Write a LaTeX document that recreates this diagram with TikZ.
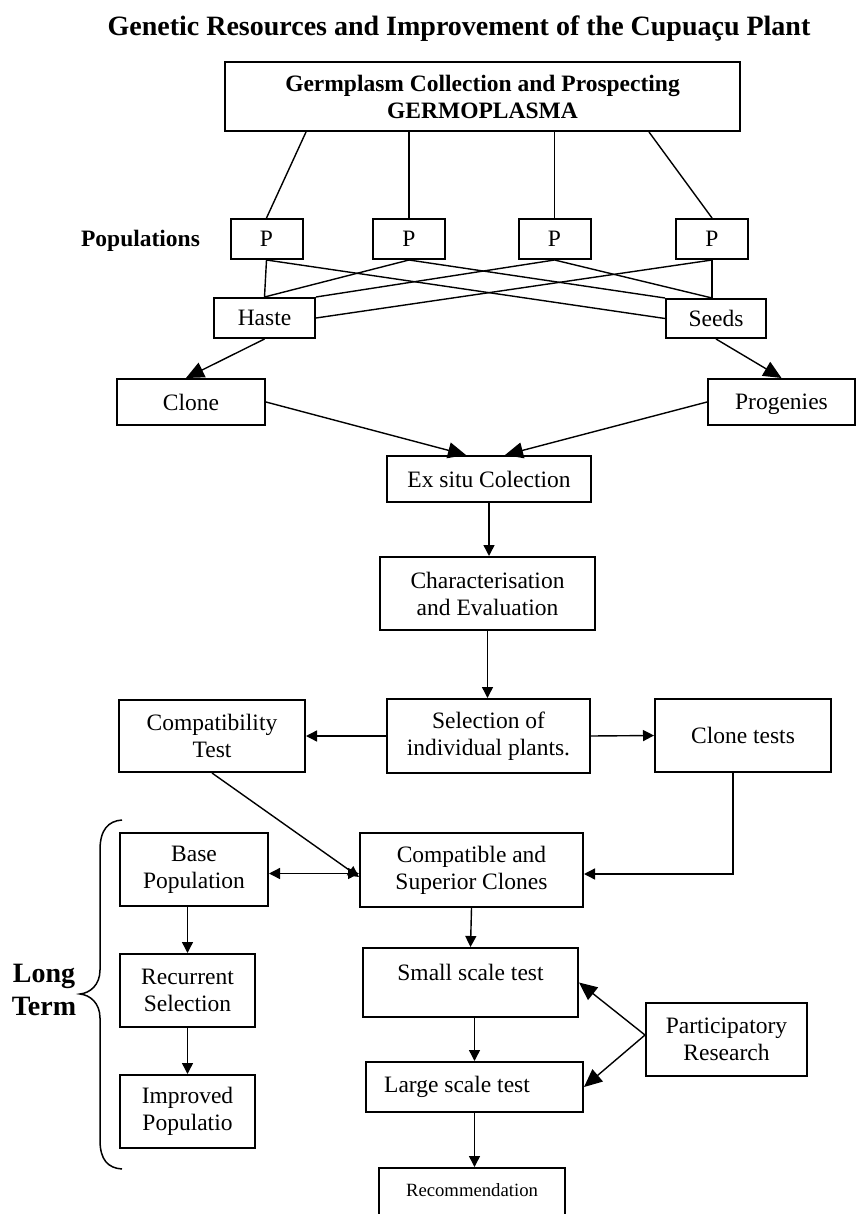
\documentclass[tikz,border=0pt]{standalone}
\usepackage{fontspec}
\setmainfont{Liberation Serif}
\usetikzlibrary{arrows.meta,calc}
\newcommand\fbody{\fontsize{23.5}{27}\selectfont}
\newcommand\ftitle{\fontsize{28}{33}\selectfont\bfseries}
\newcommand\freco{\fontsize{18.7}{22}\selectfont}
\begin{document}
\begin{tikzpicture}[x=1pt,y=-1pt,
  box/.style={draw,line width=2pt,inner sep=0pt,align=center,font=\fbody},
  con/.style={line width=1.4pt},
  big/.style={con,-{Triangle[length=18pt,width=16pt]}},
  sm/.style={con,-{Triangle[length=11pt,width=11pt]}},
  dbl/.style={con,{Triangle[length=11pt,width=11pt]}-{Triangle[length=11pt,width=11pt]}}]
\useasboundingbox (0,0) rectangle (856,1214);

\node[font=\ftitle,anchor=base] (title) at (459,36) {Genetic Resources and Improvement of the Cupuaçu Plant};

\node[box,font=\fbody\bfseries,minimum width=515pt,minimum height=69pt] (top) at (482.5,96.5) {Germplasm Collection and Prospecting\\GERMOPLASMA};

\node[font=\fbody\bfseries,anchor=base] (pop) at (140.5,247) {Populations};
\node[box,minimum width=72pt,minimum height=40pt] (P1) at (266.5,239) {P};
\node[box,minimum width=72pt,minimum height=40pt] (P2) at (409,239) {P};
\node[box,minimum width=72pt,minimum height=40pt] (P3) at (554.5,239) {P};
\node[box,minimum width=72pt,minimum height=40pt] (P4) at (712,239) {P};

\node[box,minimum width=101pt,minimum height=40pt] (haste) at (264.5,318) {Haste};
\node[box,minimum width=100pt,minimum height=39pt] (seeds) at (716,318.5) {Seeds};
\node[box,minimum width=148pt,minimum height=46pt] (clone) at (191,402) {Clone};
\node[box,minimum width=147pt,minimum height=46pt,text depth=0pt] (prog) at (781.5,402) {Progenies};
\node[box,minimum width=204pt,minimum height=46pt] (ex) at (489,479) {Ex situ Colection};
\node[box,minimum width=215pt,minimum height=73pt] (char) at (487.5,593.5) {Characterisation\\and Evaluation};
\node[box,minimum width=186pt,minimum height=72pt] (ct) at (212,736) {Compatibility\\Test};
\node[box,minimum width=203pt,minimum height=74pt] (sel) at (488.5,736) {Selection of\\individual plants.};
\node[box,minimum width=176pt,minimum height=73pt] (clt) at (743,735.5) {Clone tests};
\node[box,minimum width=148pt,minimum height=73pt] (base) at (194,869.5) {Base\\Population};
\node[box,minimum width=223pt,minimum height=74pt] (cs) at (471.5,870) {Compatible and\\Superior Clones};
\node[box,minimum width=215pt,minimum height=69pt,label={[font=\fbody,yshift=10.5pt]center:Small scale test}] (small) at (470.5,982.5) {};
\node[box,minimum width=161pt,minimum height=73pt] (part) at (726.5,1039.5) {Participatory\\Research};
\node[box,minimum width=135pt,minimum height=73pt] (rec) at (187.5,990.5) {Recurrent\\Selection};
\node[box,minimum width=217pt,minimum height=50pt,label={[font=\fbody,xshift=-17.5pt]center:Large scale test}] (large) at (474.5,1087) {};
\node[box,minimum width=135pt,minimum height=73pt] (imp) at (187.5,1111.5) {Improved\\Populatio};
\node[box,minimum width=186pt,minimum height=54pt,label={[font=\freco,yshift=5pt]center:Recommendation}] (reco) at (472,1195) {};

\node[font=\ftitle,align=center] (lt) at (44,990) {Long\\Term};
\draw[line width=1.5pt] (122,820) .. controls (108,821) and (100,830) .. (100,850) -- (100,970)
  .. controls (100,985) and (90,993) .. (80,994) .. controls (90,995) and (100,1003) .. (100,1018)
  -- (100,1140) .. controls (100,1160) and (108,1168) .. (122,1169);

% top box to populations
\draw[con] ([xshift=82pt]top.south west) -- (P1.north);
\draw[con] (P2.north |- top.south) -- (P2.north);
\draw[con] (P3.north |- top.south) -- (P3.north);
\draw[con] ([xshift=425pt]top.south west) -- (P4.north);

% crossings
\draw[con] (P1.south) -- (haste.north);
\draw[con] (P1.south) -- (seeds.west);
\draw[con] (P2.south) -- (haste.north);
\draw[con] (P2.south) -- (seeds.north west);
\draw[con] (P3.south) -- (haste.north east);
\draw[con] (P3.south) -- (P4.south |- seeds.north);
\draw[con] (P4.south) -- (P4.south |- seeds.north);
\draw[con] (P4.south) -- (haste.east);

% arrows
\draw[big] (haste.south) -- ([xshift=-5pt]clone.north);
\draw[big] (seeds.south) -- (prog.north);
\draw[big] (clone.east) -- ([xshift=80pt]ex.north west);
\draw[big] (prog.west) -- ([xshift=119pt]ex.north west);
\draw[sm] (ex.south) -- (ex.south |- char.north);
\draw[sm] (char.south) -- (char.south |- sel.north);
\draw[sm] (sel.west) -- (ct.east);
\draw[sm] (sel.east) -- (clt.west);
\draw[sm] (ct.south) -- ([yshift=-7pt]cs.west);
\draw[dbl] ([yshift=-4pt]base.east) -- ([yshift=-4pt]base.east -| cs.west);
\draw[sm] ([xshift=-10pt]clt.south) |- ([yshift=-4pt]cs.east);
\draw[sm] (cs.south) -- (small.north);
\draw[sm] (small.south -| large.north) -- (large.north);
\draw[sm] (large.south) -- (large.south |- reco.north);
\draw[big] ([yshift=4.5pt]part.west) -- (small.east);
\draw[big] ([yshift=4.5pt]part.west) -- (large.east);
\draw[sm] (rec.north |- base.south) -- (rec.north);
\draw[sm] (rec.south) -- (imp.north);
\end{tikzpicture}
\end{document}
